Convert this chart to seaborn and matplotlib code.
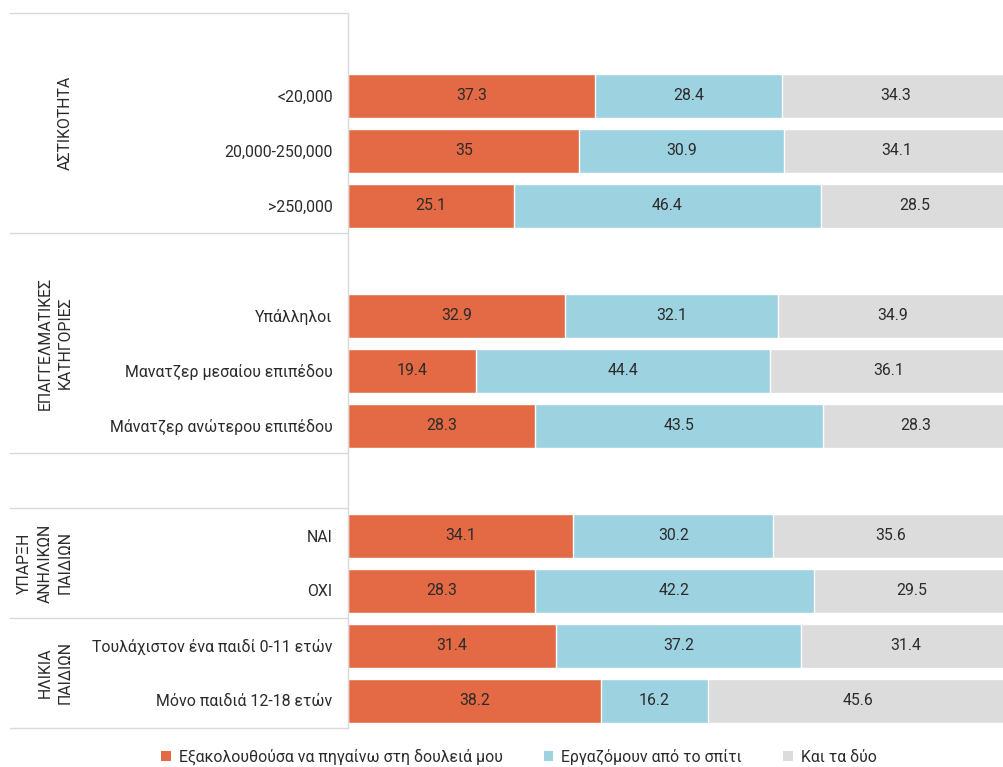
import numpy as np
import pandas as pd
import matplotlib
matplotlib.use("Agg")
import matplotlib.pyplot as plt
import seaborn as sns
from matplotlib.patches import Patch

# Survey answers (%) per respondent category
categories = [
    "<20,000", "20,000-250,000", ">250,000",
    "Υπάλληλοι", "Μανατζερ μεσαίου επιπέδου", "Μάνατζερ ανώτερου επιπέδου",
    "ΝΑΙ", "ΟΧΙ",
    "Τουλάχιστον ένα παιδί 0-11 ετών", "Μόνο παιδιά 12-18 ετών",
]
go_to_work = [37.3, 35, 25.1, 32.9, 19.4, 28.3, 34.1, 28.3, 31.4, 38.2]
work_home = [28.4, 30.9, 46.4, 32.1, 44.4, 43.5, 30.2, 42.2, 37.2, 16.2]
both = [34.3, 34.1, 28.5, 34.9, 36.1, 28.3, 35.6, 29.5, 31.4, 45.6]
series_names = ["Εξακολουθούσα να πηγαίνω στη δουλειά μου",
                "Εργαζόμουν από το σπίτι", "Και τα δύο"]
group_names = ["ΑΣΤΙΚΟΤΗΤΑ", "ΕΠΑΓΓΕΛΜΑΤΙΚΕΣ\nΚΑΤΗΓΟΡΙΕΣ",
               "ΥΠΑΡΞΗ\nΑΝΗΛΙΚΩΝ\nΠΑΙΔΙΩΝ", "ΗΛΙΚΙΑ\nΠΑΙΔΙΩΝ"]
group_sizes = [3, 3, 2, 2]
# empty rows placed before each group (0 = none)
gap_before = [1, 1, 1, 0]

colors = ["#E46A45", "#9DD2E1", "#DCDCDC"]

sns.set_theme(style="white")
plt.rcParams["font.family"] = ["Roboto", "DejaVu Sans"]
FS = 11.4
TXT = "#2b2b2b"

# row order including spacer rows
order, labels, group_spans = [], [], []
k = 0
for g, (n, gap) in enumerate(zip(group_sizes, gap_before)):
    start = len(order)
    for _ in range(gap):
        order.append(f"_spacer{len(order)}")
        labels.append("")
    if g >= 2:
        start = len(order)
    for _ in range(n):
        order.append(categories[k])
        labels.append(categories[k])
        k += 1
    group_spans.append((start - 0.5, len(order) - 0.5))

df = pd.DataFrame({"cat": categories, "a": go_to_work, "b": work_home, "c": both})
df["cum_b"] = df["a"] + df["b"]
df["cum_c"] = df["cum_b"] + df["c"]

fig = plt.figure(figsize=(10.04, 7.67), dpi=100)
ax = fig.add_axes([348 / 1004, 39 / 767, 661 / 1004, 715 / 767])

for col, color in zip(["cum_c", "cum_b", "a"], colors[::-1]):
    sns.barplot(data=df, x=col, y="cat", order=order, orient="h", color=color,
                width=0.8, edgecolor="white", linewidth=1.0, ax=ax,
                saturation=1, errorbar=None)

# value labels centred in each segment
pos = {c: i for i, c in enumerate(order)}
for _, r in df.iterrows():
    y = pos[r["cat"]]
    for lo, v in [(0, r["a"]), (r["a"], r["b"]), (r["cum_b"], r["c"])]:
        ax.text(lo + v / 2, y, f"{v:g}", ha="center", va="center",
                fontsize=FS, color=TXT)

ax.set_xlim(0, 100)
ax.set_ylim(len(order) - 0.5, -0.5)
ax.set_xlabel("")
ax.set_ylabel("")
ax.set_xticks([])
ax.set_yticks(range(len(order)))
ax.set_yticklabels(labels, fontsize=FS, color=TXT)
ax.tick_params(axis="y", length=0, pad=11)
for s in ["top", "right", "bottom"]:
    ax.spines[s].set_visible(False)
ax.spines["left"].set_color("#D9D9D9")
ax.spines["left"].set_linewidth(1.0)

# group separators and rotated group titles
trans = ax.get_yaxis_transform()
x_left = (10 - 348) / 661
boundaries = sorted({b for span in group_spans for b in span})
for b in boundaries:
    ax.plot([x_left, 0], [b, b], color="#D9D9D9", lw=1.0, transform=trans,
            clip_on=False)
x_title = (73 - 348) / 661
for name, (y0, y1) in zip(group_names, group_spans):
    ax.text(x_title, (y0 + y1) / 2, name, rotation=90, ha="right", va="center",
            multialignment="center", fontsize=FS, color=TXT, transform=trans,
            linespacing=1.45)

handles = [Patch(facecolor=c, edgecolor="none") for c in colors]
fig.legend(handles, series_names, loc="center", ncol=3, frameon=False,
           bbox_to_anchor=(519 / 1004, 1 - 757 / 767), fontsize=FS,
           handlelength=0.6, handleheight=0.6, handletextpad=0.5,
           columnspacing=2.6, labelcolor=TXT)

fig.savefig("out.png", dpi=100)
